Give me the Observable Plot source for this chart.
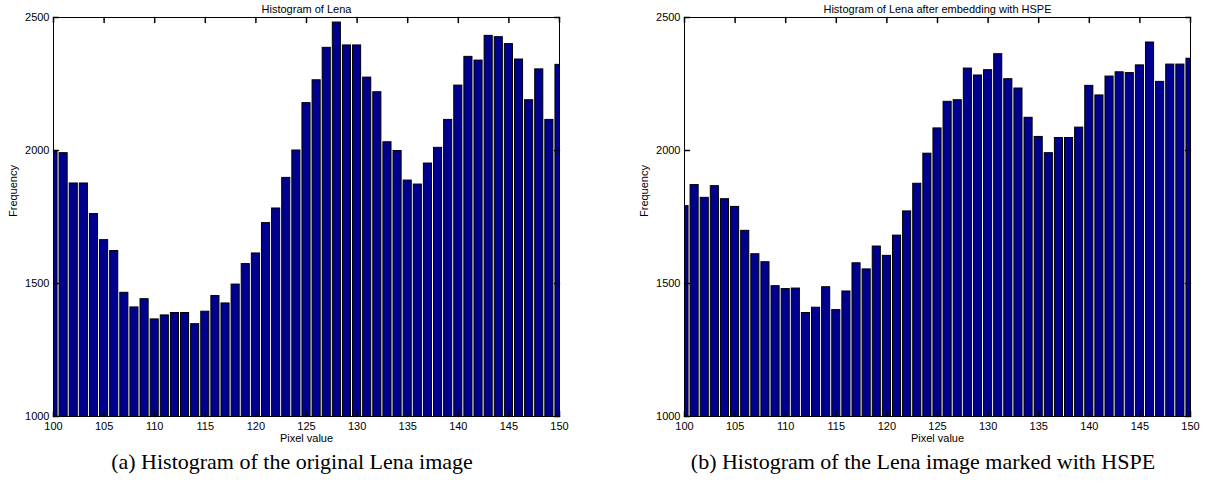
<!DOCTYPE html>
<html><head><meta charset="utf-8">
<script src="https://cdn.jsdelivr.net/npm/d3@7"></script>
<script src="https://cdn.jsdelivr.net/npm/@observablehq/plot@0.6"></script>
<style>
body{margin:0;background:#fff;}
#wrap{position:relative;width:1205px;height:488px;overflow:hidden;background:#fff;}
.panel{position:absolute;top:0;}
.cap{position:absolute;top:450px;line-height:24px;font-family:"Liberation Serif","Times New Roman",serif;font-size:22px;white-space:nowrap;transform:translateX(-50%);color:#000;}
</style></head><body><div id="wrap"></div>
<script>
// ---- data ----
const pixelValues = [100,101,102,103,104,105,106,107,108,109,110,111,112,113,114,115,116,117,118,119,120,
  121,122,123,124,125,126,127,128,129,130,131,132,133,134,135,136,137,138,139,140,
  141,142,143,144,145,146,147,148,149,150];
const lenaOriginal = [1995,1990,1876,1876,1761,1663,1622,1465,1410,1441,1365,1380,1389,1389,1347,1394,1453,1425,1496,1573,1613,
  1727,1782,1897,2000,2178,2264,2386,2481,2395,2395,2274,2219,2031,1998,1887,1872,1951,2010,2115,2244,
  2352,2338,2431,2426,2400,2342,2189,2305,2115,2322];
const lenaHSPE = [1791,1870,1822,1866,1817,1788,1698,1610,1580,1490,1479,1481,1389,1409,1486,1400,1470,1576,1553,1639,1604,
  1680,1771,1875,1988,2083,2183,2189,2308,2282,2302,2362,2268,2233,2123,2051,1990,2047,2047,2086,2243,
  2207,2278,2294,2291,2320,2406,2258,2323,2323,2345];
const xTicks = [100,105,110,115,120,125,130,135,140,145,150];
const yTicks = [1000,1500,2000,2500];
const panels = [
  {title: "Histogram of Lena", values: lenaOriginal, caption: "(a) Histogram of the original Lena image"},
  {title: "Histogram of Lena after embedding with HSPE", values: lenaHSPE, caption: "(b) Histogram of the Lena image marked with HSPE"}
];
const xLabel = "Pixel value";
const yLabel = "Frequency";

// ---- layout ----
const layout = [
  {left: 0, width: 600, marginLeft: 53, marginRight: 41, capX: 292},
  {left: 600, width: 605, marginLeft: 84, marginRight: 15, capX: 923}
];
const tickLine = {draw(ctx, l) { ctx.moveTo(0, 0); ctx.lineTo(0, -l); }};
const wrap = document.getElementById("wrap");

panels.forEach((p, i) => {
  const L = layout[i];
  const rows = pixelValues.map((v, j) => ({x: v, y: p.values[j]}));
  const chart = Plot.plot({
    width: L.width,
    height: 450,
    marginLeft: L.marginLeft,
    marginRight: L.marginRight,
    marginTop: 17,
    marginBottom: 34,
    style: {fontFamily: "'Liberation Sans', Arial, sans-serif", fontSize: "11px", background: "transparent", color: "#000"},
    x: {domain: [100, 150], axis: null},
    y: {domain: [1000, 2500], axis: null},
    marks: [
      Plot.rectY(rows, {x1: d => d.x - 0.4, x2: d => d.x + 0.4, y: "y", fill: "#00008f", stroke: "#000", strokeWidth: 1, clip: true}),
      Plot.frame({stroke: "#000", strokeWidth: 1}),
      Plot.vector(xTicks, {x: d => d, frameAnchor: "bottom", length: 5, rotate: 0, anchor: "start", shape: tickLine, stroke: "#000"}),
      Plot.vector(xTicks, {x: d => d, frameAnchor: "top", length: 5, rotate: 180, anchor: "start", shape: tickLine, stroke: "#000"}),
      Plot.vector(yTicks, {y: d => d, frameAnchor: "left", length: 5, rotate: 90, anchor: "start", shape: tickLine, stroke: "#000"}),
      Plot.vector(yTicks, {y: d => d, frameAnchor: "right", length: 5, rotate: -90, anchor: "start", shape: tickLine, stroke: "#000"}),
      Plot.axisX({ticks: xTicks, tickSize: 0, tickPadding: 6, tickFormat: d => String(d), label: null}),
      Plot.axisY({ticks: yTicks, tickSize: 0, tickPadding: 4, tickFormat: d => String(d), label: null}),
      Plot.text([xLabel], {frameAnchor: "bottom", dy: 25}),
      Plot.text([yLabel], {frameAnchor: "left", dx: -40, rotate: -90}),
      Plot.text([p.title], {frameAnchor: "top", dy: -12})
    ]
  });
  chart.classList.add("panel");
  chart.style.left = L.left + "px";
  wrap.appendChild(chart);
  const cap = document.createElement("div");
  cap.className = "cap";
  cap.style.left = L.capX + "px";
  cap.textContent = p.caption;
  wrap.appendChild(cap);
});
</script>
</body></html>
